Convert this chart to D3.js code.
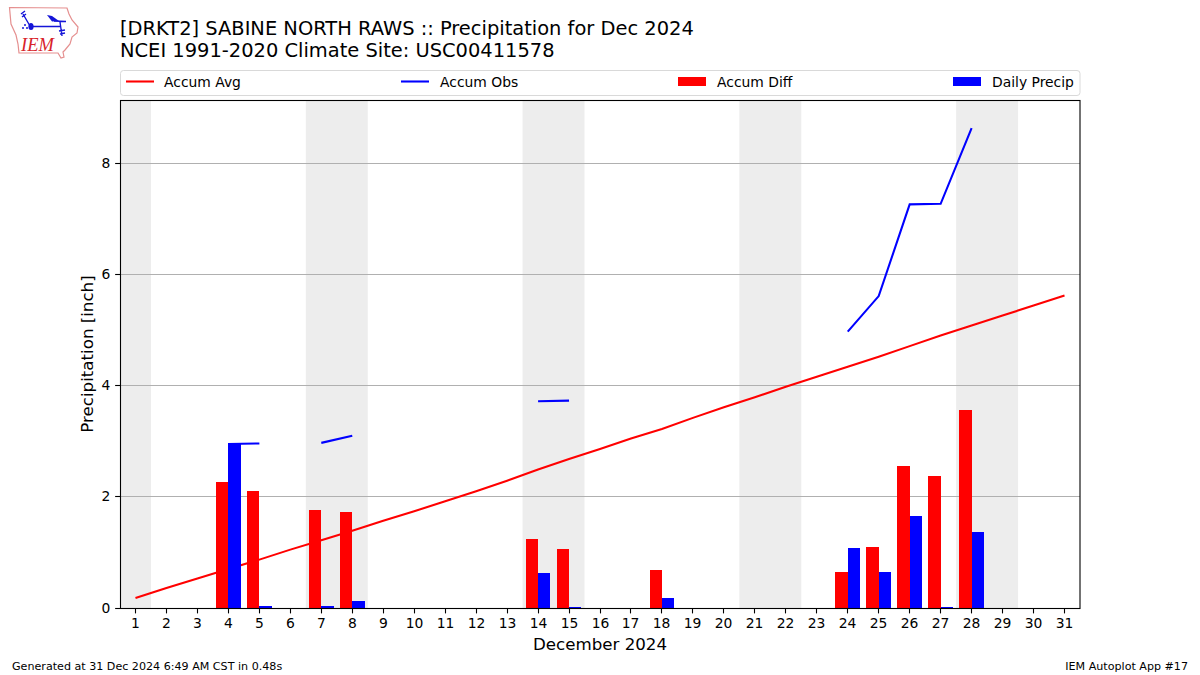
<!DOCTYPE html>
<html><head><meta charset="utf-8">
<script src="https://cdn.jsdelivr.net/npm/d3@7"></script>
<style>html,body{margin:0;padding:0;background:#fff}svg{display:block}text{font-family:"DejaVu Sans",sans-serif}</style>
</head><body><div id="chart"></div>
<script>
const titleLines = ["[DRKT2] SABINE NORTH RAWS :: Precipitation for Dec 2024", "NCEI 1991-2020 Climate Site: USC00411578"];
const days = d3.range(1, 32);
const yTicks = [0, 2, 4, 6, 8];
const weekendBands = [[0.5, 1.5], [6.5, 8.5], [13.5, 15.5], [20.5, 22.5], [27.5, 29.5]];
const accumAvg = [0.18,0.36,0.53,0.70,0.87,1.05,1.22,1.39,1.57,1.74,1.92,2.10,2.29,2.49,2.68,2.86,3.05,3.22,3.42,3.61,3.79,3.98,4.16,4.34,4.52,4.71,4.90,5.08,5.26,5.44,5.62];
const accumObsSegments = [
  [[4,2.95],[5,2.96]],
  [[7,2.97],[8,3.10]],
  [[14,3.72],[15,3.73]],
  [[24,4.97],[25,5.61],[26,7.26],[27,7.27],[28,8.63]]
];
const accumDiff = [[4,2.27],[5,2.10],[7,1.76],[8,1.73],[14,1.24],[15,1.06],[18,0.68],[24,0.645],[25,1.09],[26,2.55],[27,2.37],[28,3.56]];
const dailyPrecip = [[4,2.96],[5,0.04],[7,0.04],[8,0.13],[14,0.63],[15,0.01],[18,0.18],[24,1.08],[25,0.64],[26,1.65],[27,0.01],[28,1.36]];
const legendLabels = ["Accum Avg","Accum Obs","Accum Diff","Daily Precip"];
const footerLeft = "Generated at 31 Dec 2024 6:49 AM CST in 0.48s";
const footerRight = "IEM Autoplot App #17";

const W=1200,H=675,m={l:120,r:1080,t:100,b:608};
const svg=d3.select("#chart").append("svg").attr("width",W).attr("height",H).attr("viewBox",`0 0 ${W} ${H}`);
const x=d3.scaleLinear().domain([0.5,31.5]).range([m.l,m.r]);
const y=d3.scaleLinear().domain([0,9.137]).range([m.b,m.t]);
const RED="#ff0000",BLUE="#0000ff",barW=0.4;

// logo
const logo=svg.append("g").attr("class","logo");
logo.append("path").attr("fill","none").attr("stroke","#e58f8f").attr("stroke-width",1.2)
 .attr("d","M9.5,7.5 L67,8 L69,14 L72,20 L78,27 L77,33 L72,37 L70,44 L65,50 L63,52 L64,57 L61,58 L58,53 L19,53 L18,44 L16,35 L11,24 Z");
logo.append("path").attr("fill","none").attr("stroke","#1515d8").attr("stroke-width",1.4)
 .attr("d","M30,26 L23,14 M21,14 L25,11 M22,17 L26,14 M31,26.5 L60,26.5 M60,22 L62,36 M59,31 L65,30 M60,34 L65,33 M54,21 L66,21.5");
logo.append("path").attr("fill","#1515d8").attr("d","M47,15 L52,16 L59,21 L52,21.5 Z");
logo.append("ellipse").attr("cx",31).attr("cy",26.5).attr("rx",2.6).attr("ry",3.6).attr("fill","#1515d8");
logo.append("text").attr("x",21).attr("y",51).attr("fill","#d8232a").attr("font-size",18.5).attr("font-style","italic").style("font-family","'Liberation Serif',serif").text("IEM");
logo.selectAll("circle").data([[25,25],[23,28],[27,28]]).join("circle").attr("cx",d=>d[0]).attr("cy",d=>d[1]).attr("r",1).attr("fill","#1515d8");

// titles
svg.selectAll("text.title").data(titleLines).join("text").attr("class","title").attr("x",120).attr("y",(d,i)=>35+i*22).attr("font-size",19.44).attr("fill","#000").text(d=>d);

// legend
svg.append("rect").attr("x",120.5).attr("y",70.5).attr("width",959.5).attr("height",25).attr("rx",3).attr("fill","#fff").attr("stroke","#d9d9d9");
const lx=[126,401,678,953], ltx=[164,440,717,992];
legendLabels.forEach((t,i)=>{
  if(i<2) svg.append("line").attr("x1",lx[i]).attr("x2",lx[i]+28).attr("y1",81.5).attr("y2",81.5).attr("stroke",i?BLUE:RED).attr("stroke-width",2.08);
  else svg.append("rect").attr("x",lx[i]).attr("y",77).attr("width",28).attr("height",9).attr("fill",i==2?RED:BLUE);
  svg.append("text").attr("x",ltx[i]).attr("y",86.5).attr("font-size",13.89).text(t);
});

// bands
svg.selectAll("rect.band").data(weekendBands).join("rect").attr("class","band")
 .attr("x",d=>x(d[0])).attr("width",d=>x(d[1])-x(d[0])).attr("y",m.t).attr("height",m.b-m.t).attr("fill","#ededed");
// grid
const yPix=d=>Math.floor(y(d))+.5;
svg.selectAll("line.grid").data(yTicks.slice(1)).join("line").attr("class","grid")
 .attr("x1",m.l).attr("x2",m.r).attr("y1",yPix).attr("y2",yPix).attr("stroke","#b0b0b0").attr("stroke-width",1.1);
// lines under bars
const line=d3.line().x(d=>x(d[0])).y(d=>y(d[1]));
svg.append("path").datum(days.map((d,i)=>[d,accumAvg[i]])).attr("d",line).attr("fill","none").attr("stroke",RED).attr("stroke-width",2.08);
svg.selectAll("path.obs").data(accumObsSegments).join("path").attr("class","obs").attr("d",line).attr("fill","none").attr("stroke",BLUE).attr("stroke-width",2.08);
// bars, snapped to whole pixels
const snap=Math.round;
svg.selectAll("rect.diff").data(accumDiff).join("rect").attr("class","diff")
 .attr("x",d=>snap(x(d[0]-barW))).attr("width",d=>snap(x(d[0]))-snap(x(d[0]-barW))).attr("y",d=>snap(y(d[1]))).attr("height",d=>snap(y(0))-snap(y(d[1]))).attr("fill",RED);
svg.selectAll("rect.precip").data(dailyPrecip).join("rect").attr("class","precip")
 .attr("x",d=>snap(x(d[0]))).attr("width",d=>snap(x(d[0]+barW))-snap(x(d[0]))).attr("y",d=>snap(y(d[1]))).attr("height",d=>snap(y(0))-snap(y(d[1]))).attr("fill",BLUE);

// axes
const ax=svg.append("g").attr("transform",`translate(0,${m.b})`).call(d3.axisBottom(x).tickValues(days).tickFormat(d3.format("d")).tickSize(5.4).tickPadding(5.1));
const ay=svg.append("g").attr("transform",`translate(${m.l},0)`).call(d3.axisLeft(y).tickValues(yTicks).tickFormat(d3.format("d")).tickSize(4.86).tickPadding(4.9));
[ax,ay].forEach(g=>{g.select(".domain").remove();g.selectAll("text").attr("font-size",13.89).attr("fill","#000").style("font-family","'DejaVu Sans'");g.selectAll("line").attr("stroke","#000").attr("stroke-width",1.1);});
ax.selectAll("g.tick").attr("transform",d=>`translate(${Math.round(x(d)-.5)+.5},0)`);
ay.selectAll("g.tick").attr("transform",d=>`translate(0,${yPix(d)})`);
svg.append("rect").attr("x",m.l+.5).attr("y",m.t+.5).attr("width",m.r-m.l-.5).attr("height",m.b-m.t).attr("fill","none").attr("stroke","#000").attr("stroke-width",1.1);

svg.append("text").attr("x",600).attr("y",649.5).attr("text-anchor","middle").attr("font-size",16.67).text("December 2024");
svg.append("text").attr("transform","translate(92.5,354) rotate(-90)").attr("text-anchor","middle").attr("font-size",16.67).text("Precipitation [inch]");
svg.append("text").attr("x",12).attr("y",670).attr("font-size",11.11).text(footerLeft);
svg.append("text").attr("x",1188).attr("y",670).attr("text-anchor","end").attr("font-size",11.11).text(footerRight);
</script></body></html>
